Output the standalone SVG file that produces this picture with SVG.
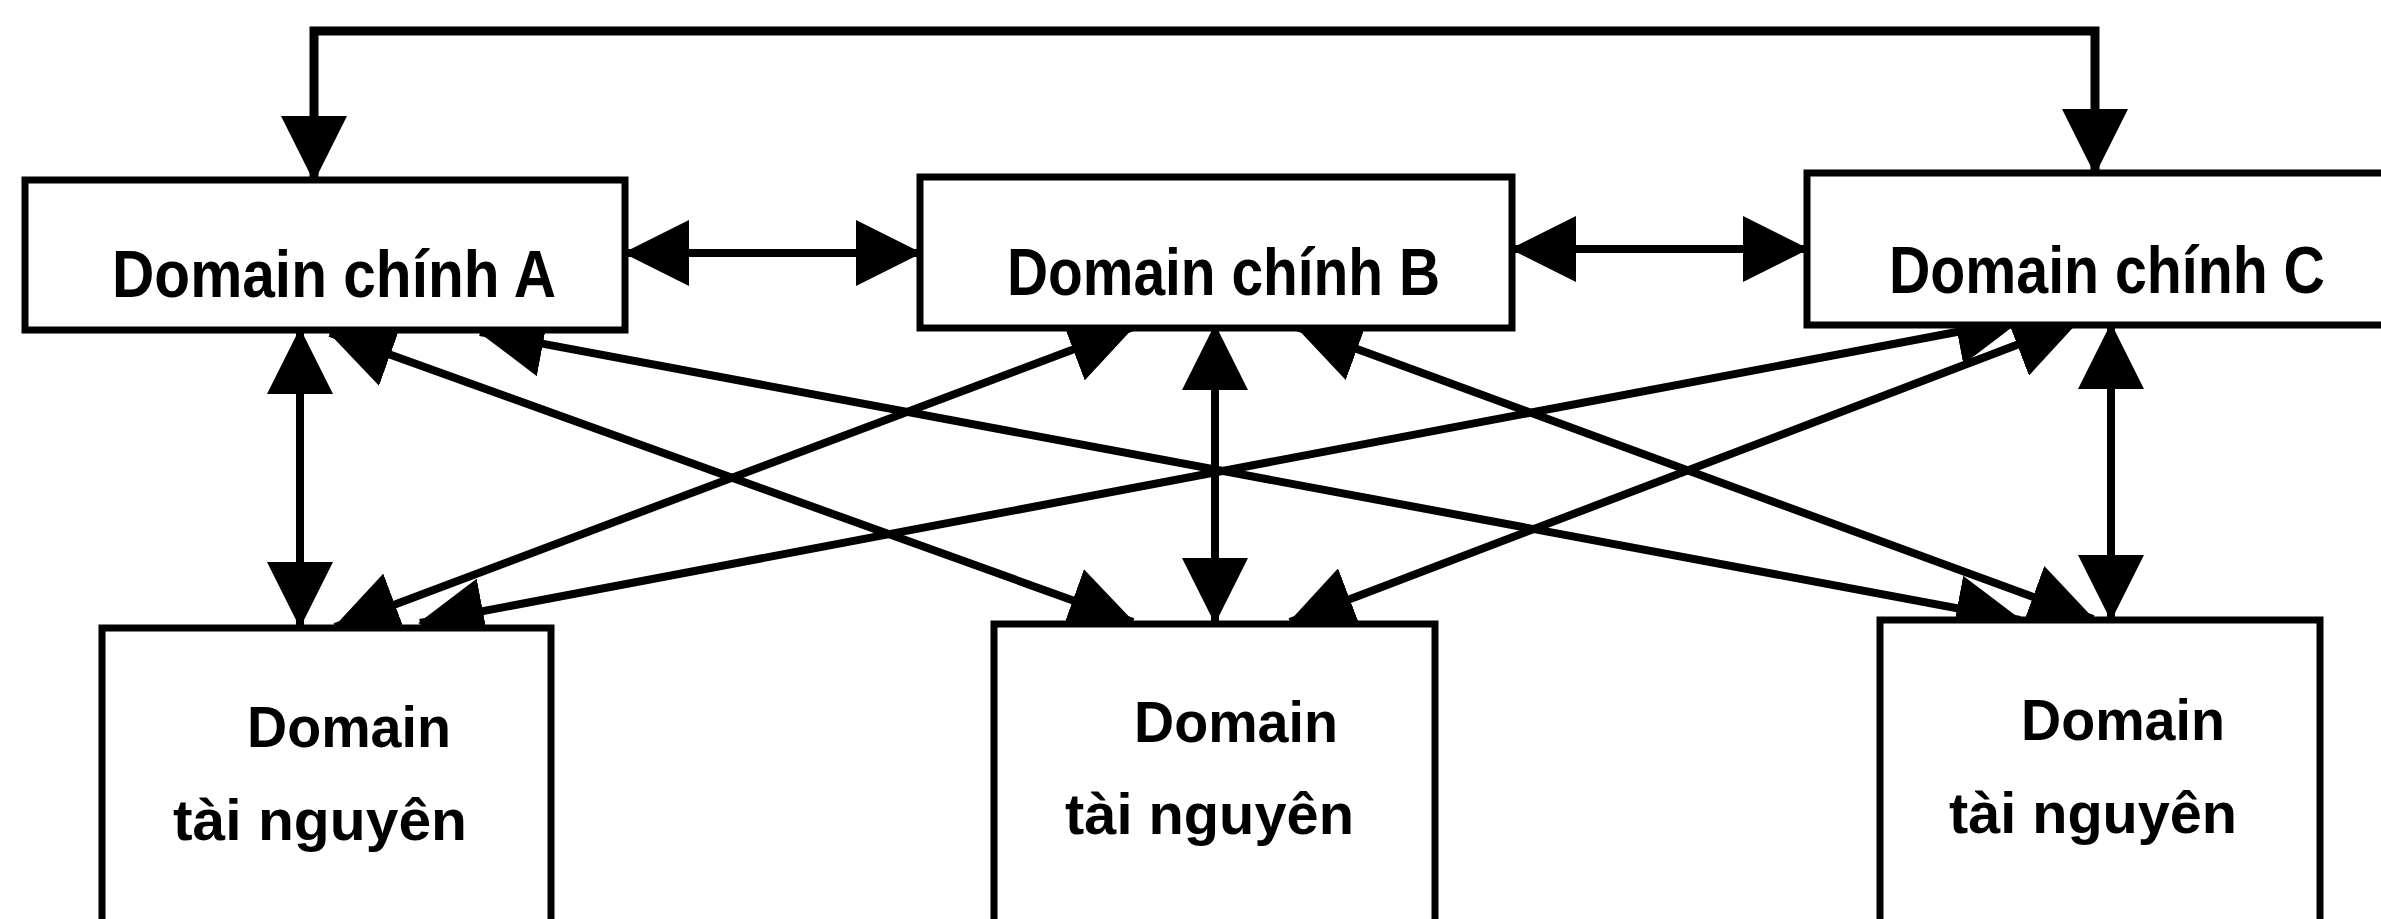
<svg xmlns="http://www.w3.org/2000/svg" width="2381" height="919" viewBox="0 0 2381 919">
  <style>
    .box { fill: #ffffff; stroke: #000000; stroke-width: 7; }
    .conn { fill: none; stroke: #000000; stroke-width: 8; marker-start: url(#ah); marker-end: url(#ah); }
    .bracket { stroke-width: 9; }
    .lbl { font-family: "Liberation Sans", Arial, sans-serif; font-weight: bold; fill: #000000; }
    .main { font-size: 66px; }
    .res { font-size: 57px; }
  </style>
  <defs>
    <marker id="ah" markerUnits="userSpaceOnUse" markerWidth="66" markerHeight="66" viewBox="0 0 66 66" refX="64" refY="33" orient="auto-start-reverse">
      <path d="M0,0 L66,33 L0,66 Z" fill="#000000"/>
    </marker>
  </defs>
  <rect width="2381" height="919" fill="#ffffff"/>

  <!-- connectors -->
  <g id="connectors">
    <path class="conn bracket" d="M314,180 V31 H2095 V173"/>
    <line class="conn" x1="625" y1="253" x2="920" y2="253"/>
    <line class="conn" x1="1512" y1="249" x2="1807" y2="249"/>
    <line class="conn" x1="300" y1="330" x2="300" y2="626"/>
    <line class="conn" x1="1215" y1="326" x2="1215" y2="622"/>
    <line class="conn" x1="2111" y1="325" x2="2111" y2="619"/>
    <line class="conn" x1="330" y1="333" x2="1133" y2="622"/>
    <line class="conn" x1="480" y1="332" x2="2020" y2="620"/>
    <line class="conn" x1="1133" y1="327" x2="335" y2="627"/>
    <line class="conn" x1="1297" y1="327" x2="2093" y2="619"/>
    <line class="conn" x1="2020" y1="320" x2="420" y2="623"/>
    <line class="conn" x1="2077" y1="322" x2="1290" y2="622"/>
  </g>

  <!-- primary domains -->
  <g id="domain-a">
    <rect class="box" x="25" y="180" width="600" height="150"/>
    <text class="lbl main" x="112" y="297" textLength="444" lengthAdjust="spacingAndGlyphs">Domain chính A</text>
  </g>
  <g id="domain-b">
    <rect class="box" x="920" y="177" width="592" height="151"/>
    <text class="lbl main" x="1007" y="295" textLength="433" lengthAdjust="spacingAndGlyphs">Domain chính B</text>
  </g>
  <g id="domain-c">
    <rect class="box" x="1807" y="173" width="620" height="152"/>
    <text class="lbl main" x="1889" y="293" textLength="436" lengthAdjust="spacingAndGlyphs">Domain chính C</text>
  </g>

  <!-- resource domains -->
  <g id="resource-1">
    <rect class="box" x="102" y="628" width="449" height="340"/>
    <text class="lbl res" x="247" y="747" textLength="204" lengthAdjust="spacingAndGlyphs">Domain</text>
    <text class="lbl res" x="173" y="840" textLength="294" lengthAdjust="spacingAndGlyphs">tài nguyên</text>
  </g>
  <g id="resource-2">
    <rect class="box" x="994" y="624" width="441" height="340"/>
    <text class="lbl res" x="1134" y="742" textLength="204" lengthAdjust="spacingAndGlyphs">Domain</text>
    <text class="lbl res" x="1065" y="834" textLength="289" lengthAdjust="spacingAndGlyphs">tài nguyên</text>
  </g>
  <g id="resource-3">
    <rect class="box" x="1880" y="620" width="440" height="340"/>
    <text class="lbl res" x="2021" y="740" textLength="204" lengthAdjust="spacingAndGlyphs">Domain</text>
    <text class="lbl res" x="1949" y="833" textLength="288" lengthAdjust="spacingAndGlyphs">tài nguyên</text>
  </g>
</svg>
